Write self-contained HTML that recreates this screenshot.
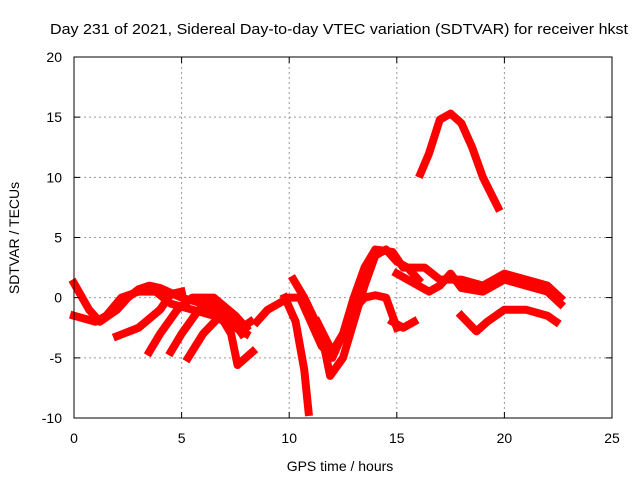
<!DOCTYPE html>
<html><head><meta charset="utf-8"><style>
body{margin:0;background:#fff}
svg{display:block;font-family:"Liberation Sans",sans-serif}
</style></head><body>
<svg id="chart" width="640" height="480" viewBox="0 0 640 480">
<rect width="640" height="480" fill="#fff"/>
<text x="50" y="34" font-size="15" textLength="578" lengthAdjust="spacingAndGlyphs">Day 231 of 2021, Sidereal Day-to-day VTEC variation (SDTVAR) for receiver hkst</text>
<g id="grid"></g>
<g id="series"></g>
<rect x="74" y="57" width="538" height="361" fill="none" stroke="#000" stroke-width="1"/>
<g id="ticks"></g>
<text x="340" y="471" font-size="14" text-anchor="middle">GPS time / hours</text>
<text transform="translate(19,238) rotate(-90)" font-size="14" text-anchor="middle">SDTVAR / TECUs</text>
</svg>
<script>
const xTicks=[0,5,10,15,20,25];
const yTicks=[-10,-5,0,5,10,15,20];
const arc1=[[0,1.2],[0.7,-1],[1.2,-2],[2,-1],[2.5,0],[3,0.7],[3.5,1],[4,0.8],[5,0],[6,-0.5],[7,-1.5],[7.8,-2.5],[8.2,-2]];
const arc2=[[0,-1.5],[1,-2],[1.5,-1.5],[2.2,0],[3,0.5],[3.8,0.5],[4.5,-0.5],[5.5,-1],[6.5,-1.5],[7.5,-2.5],[8,-3]];
const arc3=[[2,-3.2],[3,-2.5],[4,-1],[4.5,0.3],[5,0.5]];
const arc4=[[3.5,-4.5],[4,-3],[4.8,-1],[5.5,0],[6.5,0],[7.5,-1.5],[8,-2.5]];
const arc5=[[4.5,-4.5],[5,-3],[5.8,-1],[6.5,-0.5],[7.2,-1.5],[7.8,-3]];
const arc6=[[5.3,-5],[6,-3],[6.8,-1.5],[7.3,-3],[7.6,-5.6],[8.3,-4.5]];
const arc7=[[8.5,-2],[9,-1],[9.5,-0.5],[10,0],[10.5,0],[11,-2],[11.5,-4],[12,-5],[12.5,-3],[13,-1],[13.5,0],[14,0.2],[14.5,0],[15,-2.5]];
const arc8=[[9.8,0],[10.3,-2],[10.7,-6],[10.9,-9.5]];
const arc9=[[10.2,1.5],[10.7,0],[11.5,-3],[11.9,-6.5],[12.5,-5],[13,-2],[13.5,1],[14,3.5],[14.5,4],[15,3],[15.5,2.5],[16,1.5]];
const arc10=[[11.3,-2],[12,-4.5],[12.5,-3],[13,0],[13.5,2.5],[14,4],[14.8,3.8],[15.3,2.5],[16.3,2.5],[17,1.5],[18,1.5],[19,1],[20,2],[21,1.5],[22,1],[22.6,0]];
const arc11=[[15,2],[16,1],[16.5,0.5],[17,1],[17.5,2],[18,0.8],[19,0.5],[20,1.5],[21,1],[22,0.5],[22.6,-0.5]];
const arc12=[[14.8,-2],[15.3,-2.5],[15.8,-2]];
const arc13=[[18,-1.5],[18.7,-2.8],[19.2,-2],[20,-1],[21,-1],[22,-1.5],[22.4,-2]];
const arc14=[[16.1,10.3],[16.5,12],[17,14.8],[17.5,15.3],[18,14.5],[18.5,12.5],[19,10],[19.7,7.5]];
const arcs=[arc1,arc2,arc3,arc4,arc5,arc6,arc7,arc8,arc9,arc10,arc11,arc12,arc13,arc14];
const NS="http://www.w3.org/2000/svg";
const X=h=>74+h*538/25;
const Y=v=>418-(v+10)*361/30;
const grid=document.getElementById('grid'),ticks=document.getElementById('ticks'),ser=document.getElementById('series');
function mk(tag,attrs,parent){const e=document.createElementNS(NS,tag);for(const k in attrs)e.setAttribute(k,attrs[k]);parent.appendChild(e);return e;}
xTicks.forEach(t=>{
  if(t>0&&t<25){const g=mk('line',{x1:X(t),x2:X(t),y1:57,y2:418,stroke:'#999','stroke-dasharray':'2,3'},grid);
  
  }
  const tk=mk('path',{d:`M${X(t)},418v-6M${X(t)},57v6`,stroke:'#000'},ticks);
  
  
  const l=mk('text',{x:X(t),y:443,'font-size':14,'text-anchor':'middle'},ticks);l.textContent=t;
  
  
});
yTicks.forEach(t=>{
  if(t>-10&&t<20){const g=mk('line',{x1:74,x2:612,y1:Y(t),y2:Y(t),stroke:'#999','stroke-dasharray':'2,3'},grid);
  
  }
  const tk=mk('path',{d:`M74,${Y(t)}h6M612,${Y(t)}h-6`,stroke:'#000'},ticks);
  
  
  const l=mk('text',{x:62,y:Y(t)+5,'font-size':14,'text-anchor':'end'},ticks);l.textContent=t;
  
  
});
arcs.forEach(a=>{
  const p=mk('polyline',{points:a.map(d=>X(d[0])+','+Y(d[1])).join(' '),fill:'none',stroke:'#f00','stroke-width':8,'stroke-linejoin':'round','stroke-linecap':'square'},ser);
  
  
});
</script>
</body></html>
